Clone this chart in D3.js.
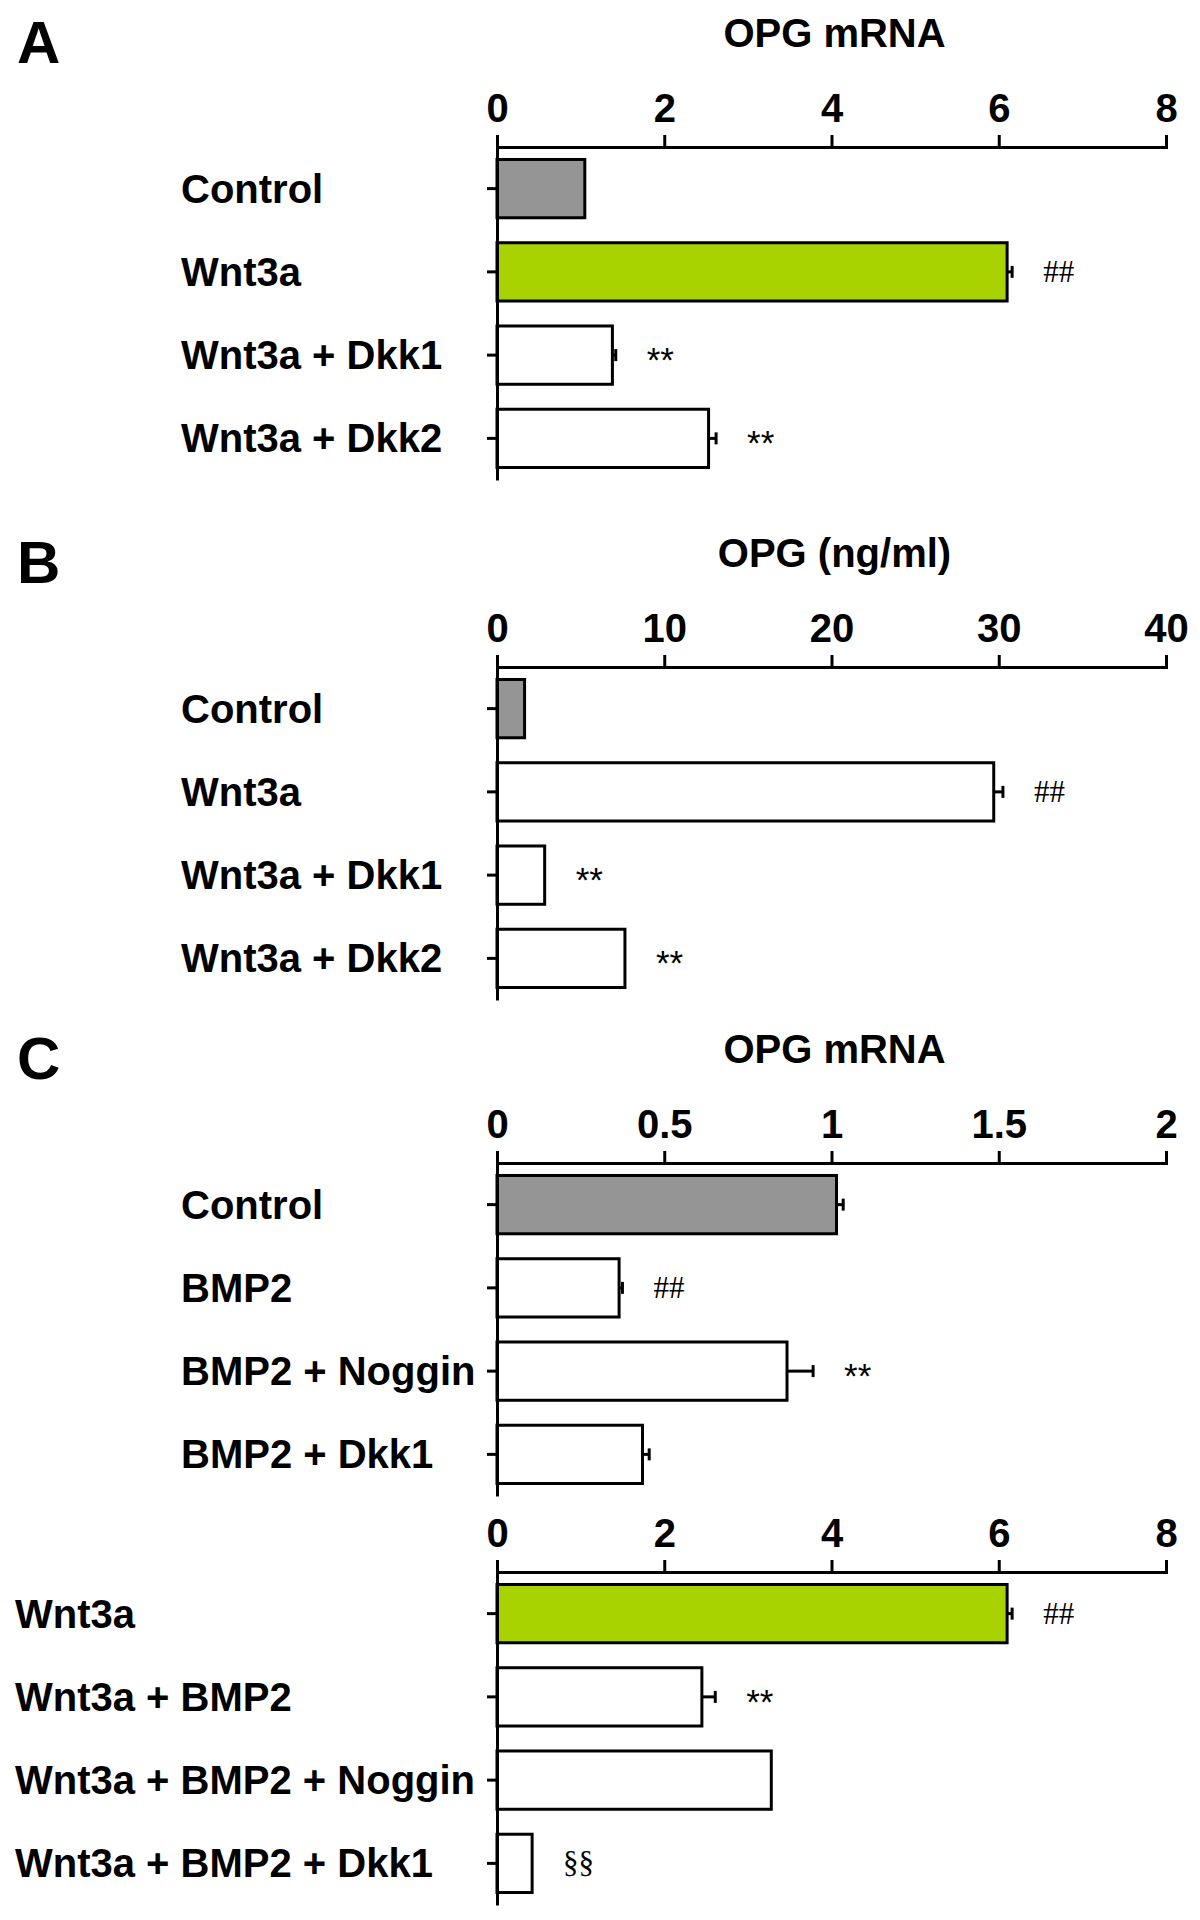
<!DOCTYPE html>
<html>
<head>
<meta charset="utf-8">
<script src="https://cdn.jsdelivr.net/npm/d3@7"></script>
<style>
body{margin:0;background:#fff;}
svg text{font-family:'Liberation Sans',Arial,Helvetica,sans-serif;}
</style>
</head>
<body>
<div class="chart-container"></div>
<script>
//Data
// A : OPG mRNA
const catsA = ['Control','Wnt3a','Wnt3a + Dkk1','Wnt3a + Dkk2'];
const valsA = [1.05, 6.10, 1.38, 2.53];
const errsA = [0, 0.06, 0.04, 0.09];
const marksA = ['', '##', '**', '**'];
const kindsA = ['control','wnt','other','other'];
const ticksA = [0,2,4,6,8];

// B : OPG protein (ng/ml)
const catsB = ['Control','Wnt3a','Wnt3a + Dkk1','Wnt3a + Dkk2'];
const valsB = [1.65, 29.7, 2.85, 7.65];
const errsB = [0, 0.55, 0, 0];
const marksB = ['', '##', '**', '**'];
const kindsB = ['control','other','other','other'];
const ticksB = [0,10,20,30,40];

// C (top) : OPG mRNA, BMP2
const catsC1 = ['Control','BMP2','BMP2 + Noggin','BMP2 + Dkk1'];
const valsC1 = [1.015, 0.365, 0.867, 0.435];
const errsC1 = [0.02, 0.01, 0.078, 0.02];
const marksC1 = ['', '##', '**', ''];
const kindsC1 = ['control','other','other','other'];
const ticksC1 = [0,0.5,1,1.5,2];

// C (bottom) : OPG mRNA, Wnt3a + BMP2
const catsC2 = ['Wnt3a','Wnt3a + BMP2','Wnt3a + BMP2 + Noggin','Wnt3a + BMP2 + Dkk1'];
const valsC2 = [6.10, 2.45, 3.28, 0.42];
const errsC2 = [0.06, 0.16, 0, 0];
const marksC2 = ['##', '**', '', '§§'];
const kindsC2 = ['wnt','other','other','other'];
const ticksC2 = [0,2,4,6,8];

//Canvas
const svg_width = 1200;
const svg_height = 1920;
const x_left = 497;
const x_right = 1166;
const band_len = 333;

const fillColor = d3.scaleOrdinal()
    .domain(['control','wnt','other'])
    .range(['#959595','#a8d300','#ffffff']);

const svg = d3.select('.chart-container').append('svg')
    .attr('width',svg_width).attr('height',svg_height);

function markFont(m){
    return m === '**' ? "'Liberation Sans',Arial,sans-serif" : "'Liberation Serif','Times New Roman',serif";
}

function drawPanel(p){
    const g = svg.append('g').attr('transform',`translate(0,${p.axisY})`);
    const data = p.cats.map((c,i)=>({cat:c,val:p.vals[i],err:p.errs[i],mark:p.marks[i],kind:p.kinds[i]}));

    const xScale = d3.scaleLinear([0,d3.max(p.ticks)],[x_left,x_right]);
    const yScale = d3.scaleBand().domain(p.cats)
        .range([0,band_len])
        .paddingInner(0.3).paddingOuter(0.15);

    //letter + title
    if(p.letter){
        g.append('text').text(p.letter)
         .attr('x',17).attr('y',-84)
         .style('font-size','60px').style('font-weight','bold');
    }
    if(p.title){
        g.append('text').text(p.title)
         .attr('x',(x_left+x_right)/2 + 3).attr('y',-100)
         .attr('text-anchor','middle')
         .style('font-size','40px').style('font-weight','bold');
    }

    //bars
    g.selectAll('.bar').data(data).enter().append('rect').attr('class','bar')
        .attr('x',xScale(0)).attr('y',d=>yScale(d.cat))
        .attr('width',d=>xScale(d.val)-xScale(0))
        .attr('height',yScale.bandwidth())
        .style('fill',d=>fillColor(d.kind))
        .style('stroke','#000').style('stroke-width',3);

    //error bars (upper side only)
    const eb = g.selectAll('.err').data(data.filter(d=>d.err>0)).enter()
        .append('g').attr('class','err');
    eb.append('line')
        .attr('x1',d=>xScale(d.val)).attr('x2',d=>xScale(d.val+d.err))
        .attr('y1',d=>yScale(d.cat)+yScale.bandwidth()/2)
        .attr('y2',d=>yScale(d.cat)+yScale.bandwidth()/2)
        .style('stroke','#000').style('stroke-width',3);
    eb.append('line')
        .attr('x1',d=>xScale(d.val+d.err)).attr('x2',d=>xScale(d.val+d.err))
        .attr('y1',d=>yScale(d.cat)+yScale.bandwidth()/2-6)
        .attr('y2',d=>yScale(d.cat)+yScale.bandwidth()/2+6)
        .style('stroke','#000').style('stroke-width',3);

    //significance marks
    g.selectAll('.mark').data(data.filter(d=>d.mark)).enter().append('text').attr('class','mark')
        .text(d=>d.mark)
        .attr('x',d=>xScale(d.val+d.err)+31)
        .attr('y',d=>yScale(d.cat)+yScale.bandwidth()/2 + (d.mark==='**' ? 17 : 10))
        .style('font-family',d=>markFont(d.mark))
        .style('font-size',d=>d.mark==='**' ? '35px' : '31px');

    //x axis on top
    const xAxis = d3.axisTop(xScale).tickValues(p.ticks)
        .tickFormat(d3.format(''))
        .tickSize(12).tickSizeOuter(12).tickPadding(13);
    const xAxisDraw = g.append('g').attr('class','x axis').call(xAxis);
    xAxisDraw.selectAll('path,line').style('stroke','#000').style('stroke-width',3);
    xAxisDraw.selectAll('text').style('font-size','40px').style('font-weight','bold')
        .style('font-family',"'Liberation Sans',Arial,sans-serif").attr('fill','#000');

    //y axis with category labels
    const yAxis = d3.axisLeft(yScale).tickSize(10).tickSizeOuter(0);
    const yAxisDraw = g.append('g').attr('class','y axis')
        .attr('transform',`translate(${x_left},0)`).call(yAxis);
    yAxisDraw.selectAll('path,line').style('stroke','#000').style('stroke-width',3);
    yAxisDraw.selectAll('text')
        .attr('x',p.labelX - x_left).attr('text-anchor','start').attr('dy','0.35em')
        .style('font-size','40px').style('font-weight','bold')
        .style('font-family',"'Liberation Sans',Arial,sans-serif").attr('fill','#000');
}

//Main
drawPanel({letter:'A',title:'OPG mRNA',axisY:147,labelX:181,
    cats:catsA,vals:valsA,errs:errsA,marks:marksA,kinds:kindsA,ticks:ticksA});
drawPanel({letter:'B',title:'OPG (ng/ml)',axisY:667,labelX:181,
    cats:catsB,vals:valsB,errs:errsB,marks:marksB,kinds:kindsB,ticks:ticksB});
drawPanel({letter:'C',title:'OPG mRNA',axisY:1163,labelX:181,
    cats:catsC1,vals:valsC1,errs:errsC1,marks:marksC1,kinds:kindsC1,ticks:ticksC1});
drawPanel({letter:null,title:null,axisY:1572,labelX:15,
    cats:catsC2,vals:valsC2,errs:errsC2,marks:marksC2,kinds:kindsC2,ticks:ticksC2});
</script>
</body>
</html>
